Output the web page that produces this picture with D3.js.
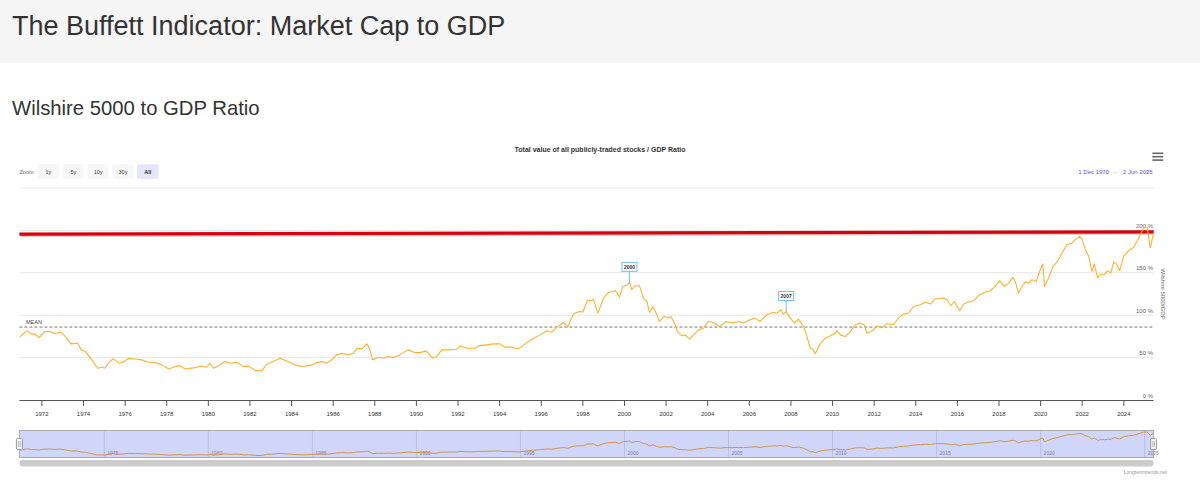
<!DOCTYPE html>
<html><head><meta charset="utf-8">
<script src="https://cdn.jsdelivr.net/npm/d3@7"></script>
<style>
body{margin:0;background:#fff;font-family:"Liberation Sans",Arial,sans-serif;}
svg{display:block}
</style></head><body>
<svg id="c" width="1200" height="490"></svg>
<script>
const pageTitle = "The Buffett Indicator: Market Cap to GDP";
const sectionTitle = "Wilshire 5000 to GDP Ratio";
const chartTitle = "Total value of all publicly-traded stocks / GDP Ratio";
const yAxisTitle = "Wilshire 5000/GDP";
const creditText = "Longtermtrends.net";

const years = [1970.92,1971.27,1971.5,1971.67,1971.87,1972.15,1972.39,1972.63,1972.9,1973.1,1973.4,1973.72,1973.9,1974.1,1974.4,1974.68,1974.9,1975.03,1975.19,1975.43,1975.7,1975.91,1976.15,1976.5,1976.8,1977.1,1977.44,1977.76,1978.11,1978.4,1978.64,1978.88,1979.36,1979.68,1979.92,1980.08,1980.24,1980.48,1980.8,1981.12,1981.37,1981.68,1981.92,1982.25,1982.57,1982.8,1983.13,1983.45,1983.77,1984.17,1984.49,1984.73,1984.97,1985.2,1985.45,1985.69,1985.93,1986.17,1986.41,1986.73,1986.97,1987.16,1987.38,1987.62,1987.77,1987.9,1988.17,1988.41,1988.65,1988.89,1989.2,1989.6,1989.92,1990.18,1990.47,1990.79,1991.0,1991.22,1991.54,1991.94,1992.1,1992.42,1992.82,1992.98,1993.38,1993.7,1994.02,1994.26,1994.59,1994.9,1995.23,1995.63,1995.95,1996.27,1996.51,1996.75,1997.07,1997.28,1997.55,1997.84,1998.0,1998.22,1998.43,1998.51,1998.72,1998.99,1999.23,1999.44,1999.55,1999.76,1999.92,2000.14,2000.24,2000.35,2000.51,2000.72,2000.91,2001.08,2001.2,2001.37,2001.52,2001.68,2001.91,2002.12,2002.23,2002.44,2002.55,2002.76,2002.92,2003.13,2003.32,2003.56,2003.8,2004.04,2004.28,2004.57,2004.89,2005.16,2005.48,2005.72,2006.04,2006.28,2006.52,2006.84,2007.13,2007.33,2007.52,2007.64,2007.77,2007.97,2008.16,2008.37,2008.61,2008.77,2008.93,2009.06,2009.17,2009.41,2009.65,2009.89,2010.13,2010.21,2010.37,2010.61,2010.85,2011.09,2011.33,2011.52,2011.65,2011.94,2012.13,2012.37,2012.61,2012.93,2013.17,2013.41,2013.65,2013.89,2014.22,2014.46,2014.7,2014.94,2015.34,2015.5,2015.69,2015.85,2016.11,2016.3,2016.54,2016.78,2017.02,2017.34,2017.58,2017.82,2018.03,2018.25,2018.46,2018.67,2018.78,2018.94,2019.11,2019.26,2019.42,2019.59,2019.79,2019.95,2020.1,2020.19,2020.38,2020.6,2020.79,2021.03,2021.27,2021.51,2021.67,2021.88,2022.0,2022.15,2022.31,2022.47,2022.58,2022.74,2022.9,2023.06,2023.22,2023.38,2023.51,2023.67,2023.8,2023.99,2024.23,2024.47,2024.63,2024.79,2024.95,2025.12,2025.27,2025.43];
const ratio = [74,81.6,78,77.6,73.7,80.7,80.7,78.4,80,75.7,66.2,67,59.1,57.1,47.3,37.5,38.6,37.5,43.4,48.8,43.4,44.6,48.8,48.3,47.3,44.9,44.1,41.4,36.6,39.4,40.5,36.6,38.2,40.2,38.6,43.4,37.5,40.2,45.3,43.4,44.6,39.4,40.2,34.6,34.3,42.2,45.3,49.3,46.1,41.4,39.5,40.2,41.4,44.1,45.3,43.4,47.3,53.2,55.2,53.2,55.2,61.1,60.3,66.2,59.1,47.3,50.5,49.3,51.2,50,53.2,59.1,55.9,55.9,57.9,49.3,52,59.1,59.1,59.9,63.8,61.1,61.1,63.8,65,66.2,66.2,62.3,62.3,60.3,66.2,72.9,76.8,81.6,80,85.9,91.4,86.6,101.7,104.4,103.7,117.4,117.4,119,102.5,120.2,126.8,128,129.2,121.4,133.9,135.9,138.7,130,134.8,134.8,120.2,116.2,103.2,110.3,102.5,92.6,98.5,96.6,98.5,88.7,80.7,75.7,76.8,71.7,76.8,82.7,84.7,92.6,91.4,86.6,92.6,90.7,92.6,90.7,94.6,96.6,92.6,100.5,103.2,102.5,106.4,101.3,104.4,96.6,90.7,95.4,86.6,74.8,61.1,59.9,54.4,66.2,72.9,75.7,78.8,81.9,76.8,74.8,80.7,88.7,90.7,88.7,78.8,81.9,87.5,85,90,88.7,96.6,101.3,102.5,110.3,112.3,115.5,113.1,119.4,120.2,118.2,111.1,116.2,105.2,113.1,115.5,117,123.3,127.3,128.8,133.9,140.7,133.9,137.9,144.6,139.8,126.1,133.9,139.1,137.9,141.8,139.8,151.7,160.4,133.9,143.9,157.6,162.8,173.4,183.2,185.2,189.1,193,189.1,177.3,169.4,151.7,160.4,143.9,148.6,147.8,152.5,149.8,162.8,159.6,152.5,169.4,176.1,180,187.1,195,202.9,203.7,179.3,197];

const meanValue = 86;
const meanLabel = "MEAN";
const redLineYears = [1970.92, 2025.43];
const redLineValues = [195.5, 198.3];
const flagYears = [2000.24, 2007.77];
const flagLabels = ["2000", "2007"];
const yTicks = [0, 50, 100, 150, 200, 250];
const yTickLabels = ["0 %", "50 %", "100 %", "150 %", "200 %", ""];
const xTickYears = [1972,1974,1976,1978,1980,1982,1984,1986,1988,1990,1992,1994,1996,1998,2000,2002,2004,2006,2008,2010,2012,2014,2016,2018,2020,2022,2024];
const navTickYears = [1975,1980,1985,1990,1995,2000,2005,2010,2015,2020,2025];
const zoomButtons = ["1y","5y","10y","30y","All"];
const rangeStart = "1 Dec 1970", rangeEnd = "2 Jun 2025";

const svg = d3.select("#c");
const F = "'Liberation Sans', Arial, sans-serif";

// header
svg.append("rect").attr("x",0).attr("y",0).attr("width",1200).attr("height",63).attr("fill","#f5f5f5");
svg.append("text").attr("x",12).attr("y",35).attr("font-size",27).attr("fill","#333").attr("font-family",F).text(pageTitle);
svg.append("text").attr("x",12).attr("y",115).attr("font-size",20.3).attr("fill","#333").attr("font-family",F).text(sectionTitle);

const L = 19.4, R = 1153.6, T = 188, B = 400;
const x = d3.scaleLinear().domain([years[0], years[years.length-1]]).range([L, R]);
const y = d3.scaleLinear().domain([0, 250]).range([B, T]);

// chart title
svg.append("text").attr("x",600).attr("y",151.5).attr("text-anchor","middle").attr("font-size",7).attr("font-weight","bold").attr("fill","#333").attr("font-family",F).text(chartTitle);

// hamburger
[152.5,155.9,159.3].forEach(v=>svg.append("rect").attr("x",1152.3).attr("y",v).attr("width",11).attr("height",1.6).attr("fill","#666"));

// zoom buttons
svg.append("text").attr("x",19.5).attr("y",174.2).attr("font-size",5.5).attr("fill","#666").attr("font-family",F).text("Zoom");
const bg = svg.append("g");
zoomButtons.forEach((b,i)=>{
  const bx = 37.7 + i*24.85;
  const sel = b === "All";
  bg.append("rect").attr("x",bx).attr("y",164.3).attr("width",21.5).attr("height",14.7).attr("rx",2)
    .attr("fill", sel ? "#e6e6ff" : "#f7f7f7");
  bg.append("text").attr("x",bx+10.75).attr("y",174.2).attr("text-anchor","middle").attr("font-size",5.5)
    .attr("font-weight", sel ? "bold" : "normal").attr("fill","#333").attr("font-family",F).text(b);
});

// date range
svg.append("text").attr("x",1078.3).attr("y",173.8).attr("font-size",6).attr("fill","#5555ee").attr("font-family",F).text(rangeStart);
svg.append("text").attr("x",1115).attr("y",173.8).attr("text-anchor","middle").attr("font-size",6).attr("fill","#999").attr("font-family",F).text("\u2192");
svg.append("text").attr("x",1123).attr("y",173.8).attr("font-size",6).attr("fill","#5555ee").attr("font-family",F).text(rangeEnd);

// grid
const gg = svg.append("g");
yTicks.forEach((t,i)=>{
  if (t > 0) gg.append("line").attr("x1",L).attr("x2",R).attr("y1",y(t)).attr("y2",y(t)).attr("stroke","#e6e6e6").attr("stroke-width",1);
  if (yTickLabels[i]) gg.append("text").attr("x",1153).attr("y",y(t)-2.5).attr("text-anchor","end").attr("font-size",6).attr("fill","#666").attr("font-family",F).text(yTickLabels[i]);
});
svg.append("text").attr("transform",`translate(1161,${(T+B)/2}) rotate(90)`).attr("text-anchor","middle").attr("font-size",6).attr("fill","#666").attr("font-family",F).text(yAxisTitle);

// x axis
const xa = svg.append("g");
xa.append("line").attr("x1",L).attr("x2",R).attr("y1",B+0.5).attr("y2",B+0.5).attr("stroke","#555");
xTickYears.forEach(t=>{
  xa.append("line").attr("x1",x(t)).attr("x2",x(t)).attr("y1",B).attr("y2",B+6).attr("stroke","#555");
  xa.append("text").attr("x",x(t)).attr("y",416).attr("text-anchor","middle").attr("font-size",6).attr("fill","#333").attr("font-family",F).text(t);
});

// clip
svg.append("clipPath").attr("id","pc").append("rect").attr("x",L).attr("y",T-5).attr("width",R-L+2).attr("height",B-T+5);

// mean line
svg.append("line").attr("x1",L).attr("x2",R).attr("y1",y(meanValue)).attr("y2",y(meanValue)).attr("stroke","#777").attr("stroke-dasharray","3,2").attr("stroke-width",1);
svg.append("text").attr("x",26).attr("y",y(meanValue)-3).attr("font-size",5.5).attr("fill","#444").attr("font-family",F).text(meanLabel);

// red line
const redData = redLineYears.map((yr,i)=>[yr, redLineValues[i]]);
const rl = d3.line().x(d=>x(d[0])).y(d=>y(d[1]));
svg.append("path").attr("d",rl(redData)).attr("transform","translate(1,1)").attr("fill","none").attr("stroke","rgba(0,0,0,0.18)").attr("stroke-width",4);
svg.append("path").attr("d",rl(redData)).attr("fill","none").attr("stroke","#d8000e").attr("stroke-width",3.2);

// main line
const data = years.map((yr,i)=>[yr, ratio[i]]);
const line = d3.line().x(d=>x(d[0])).y(d=>y(d[1]));
svg.append("path").attr("clip-path","url(#pc)").attr("d",line(data)).attr("fill","none").attr("stroke","#ffb030").attr("stroke-width",1.1).attr("stroke-linejoin","round");

// flags
const bis = d3.bisector(d=>d[0]).left;
flagYears.forEach((fy,i)=>{
  const j = Math.min(bis(data, fy), data.length-1);
  const a = data[Math.max(j-1,0)], b = data[j];
  const v = b[0]===a[0] ? b[1] : a[1] + (b[1]-a[1])*(fy-a[0])/(b[0]-a[0]);
  const px = x(fy), py = y(v);
  const g = svg.append("g");
  g.append("line").attr("x1",px).attr("x2",px).attr("y1",py).attr("y2",py-11).attr("stroke","#6cc0f0").attr("stroke-width",1);
  g.append("rect").attr("x",px-7.5).attr("y",py-20).attr("width",15).attr("height",9).attr("fill","#fff").attr("stroke","#6cc0f0").attr("stroke-width",1);
  g.append("text").attr("x",px).attr("y",py-13.5).attr("text-anchor","middle").attr("font-size",5).attr("font-weight","bold").attr("fill","#333").attr("font-family",F).text(flagLabels[i]);
});

// navigator
const NT = 430.5, NB = 457.5;
const ny = d3.scaleLinear().domain(d3.extent(ratio)).range([455.5, 432]);
const ng = svg.append("g");
ng.append("rect").attr("x",L).attr("y",NT).attr("width",R-L).attr("height",NB-NT).attr("fill","#fff");
navTickYears.forEach(t=>{
  ng.append("line").attr("x1",x(t)).attr("x2",x(t)).attr("y1",NT).attr("y2",NB).attr("stroke","#e0e0e0");
  ng.append("text").attr("x",x(t)+3).attr("y",455).attr("font-size",5).attr("fill","#888").attr("font-family",F).text(t);
});
ng.append("path").attr("d",d3.line().x(d=>x(d[0])).y(d=>ny(d[1]))(data)).attr("fill","none").attr("stroke","#ffa500").attr("stroke-width",1);
ng.append("rect").attr("x",L).attr("y",NT).attr("width",R-L).attr("height",NB-NT).attr("fill","rgba(100,115,240,0.3)").attr("stroke","#aaa").attr("stroke-width",1);
[L, R].forEach(hx=>{
  ng.append("rect").attr("x",hx-3).attr("y",438.5).attr("width",6).attr("height",11).attr("rx",1).attr("fill","#f2f2f2").attr("stroke","#999");
  ng.append("line").attr("x1",hx-0.8).attr("x2",hx-0.8).attr("y1",441).attr("y2",447).attr("stroke","#999").attr("stroke-width",0.6);
  ng.append("line").attr("x1",hx+0.8).attr("x2",hx+0.8).attr("y1",441).attr("y2",447).attr("stroke","#999").attr("stroke-width",0.6);
});
// scrollbar
svg.append("rect").attr("x",L).attr("y",460).attr("width",R-L).attr("height",6.5).attr("rx",3.2).attr("fill","#cccccc");

// credit
svg.append("text").attr("x",1167).attr("y",473.5).attr("text-anchor","end").attr("font-size",5).attr("fill","#999").attr("font-family",F).text(creditText);
</script>
</body></html>
